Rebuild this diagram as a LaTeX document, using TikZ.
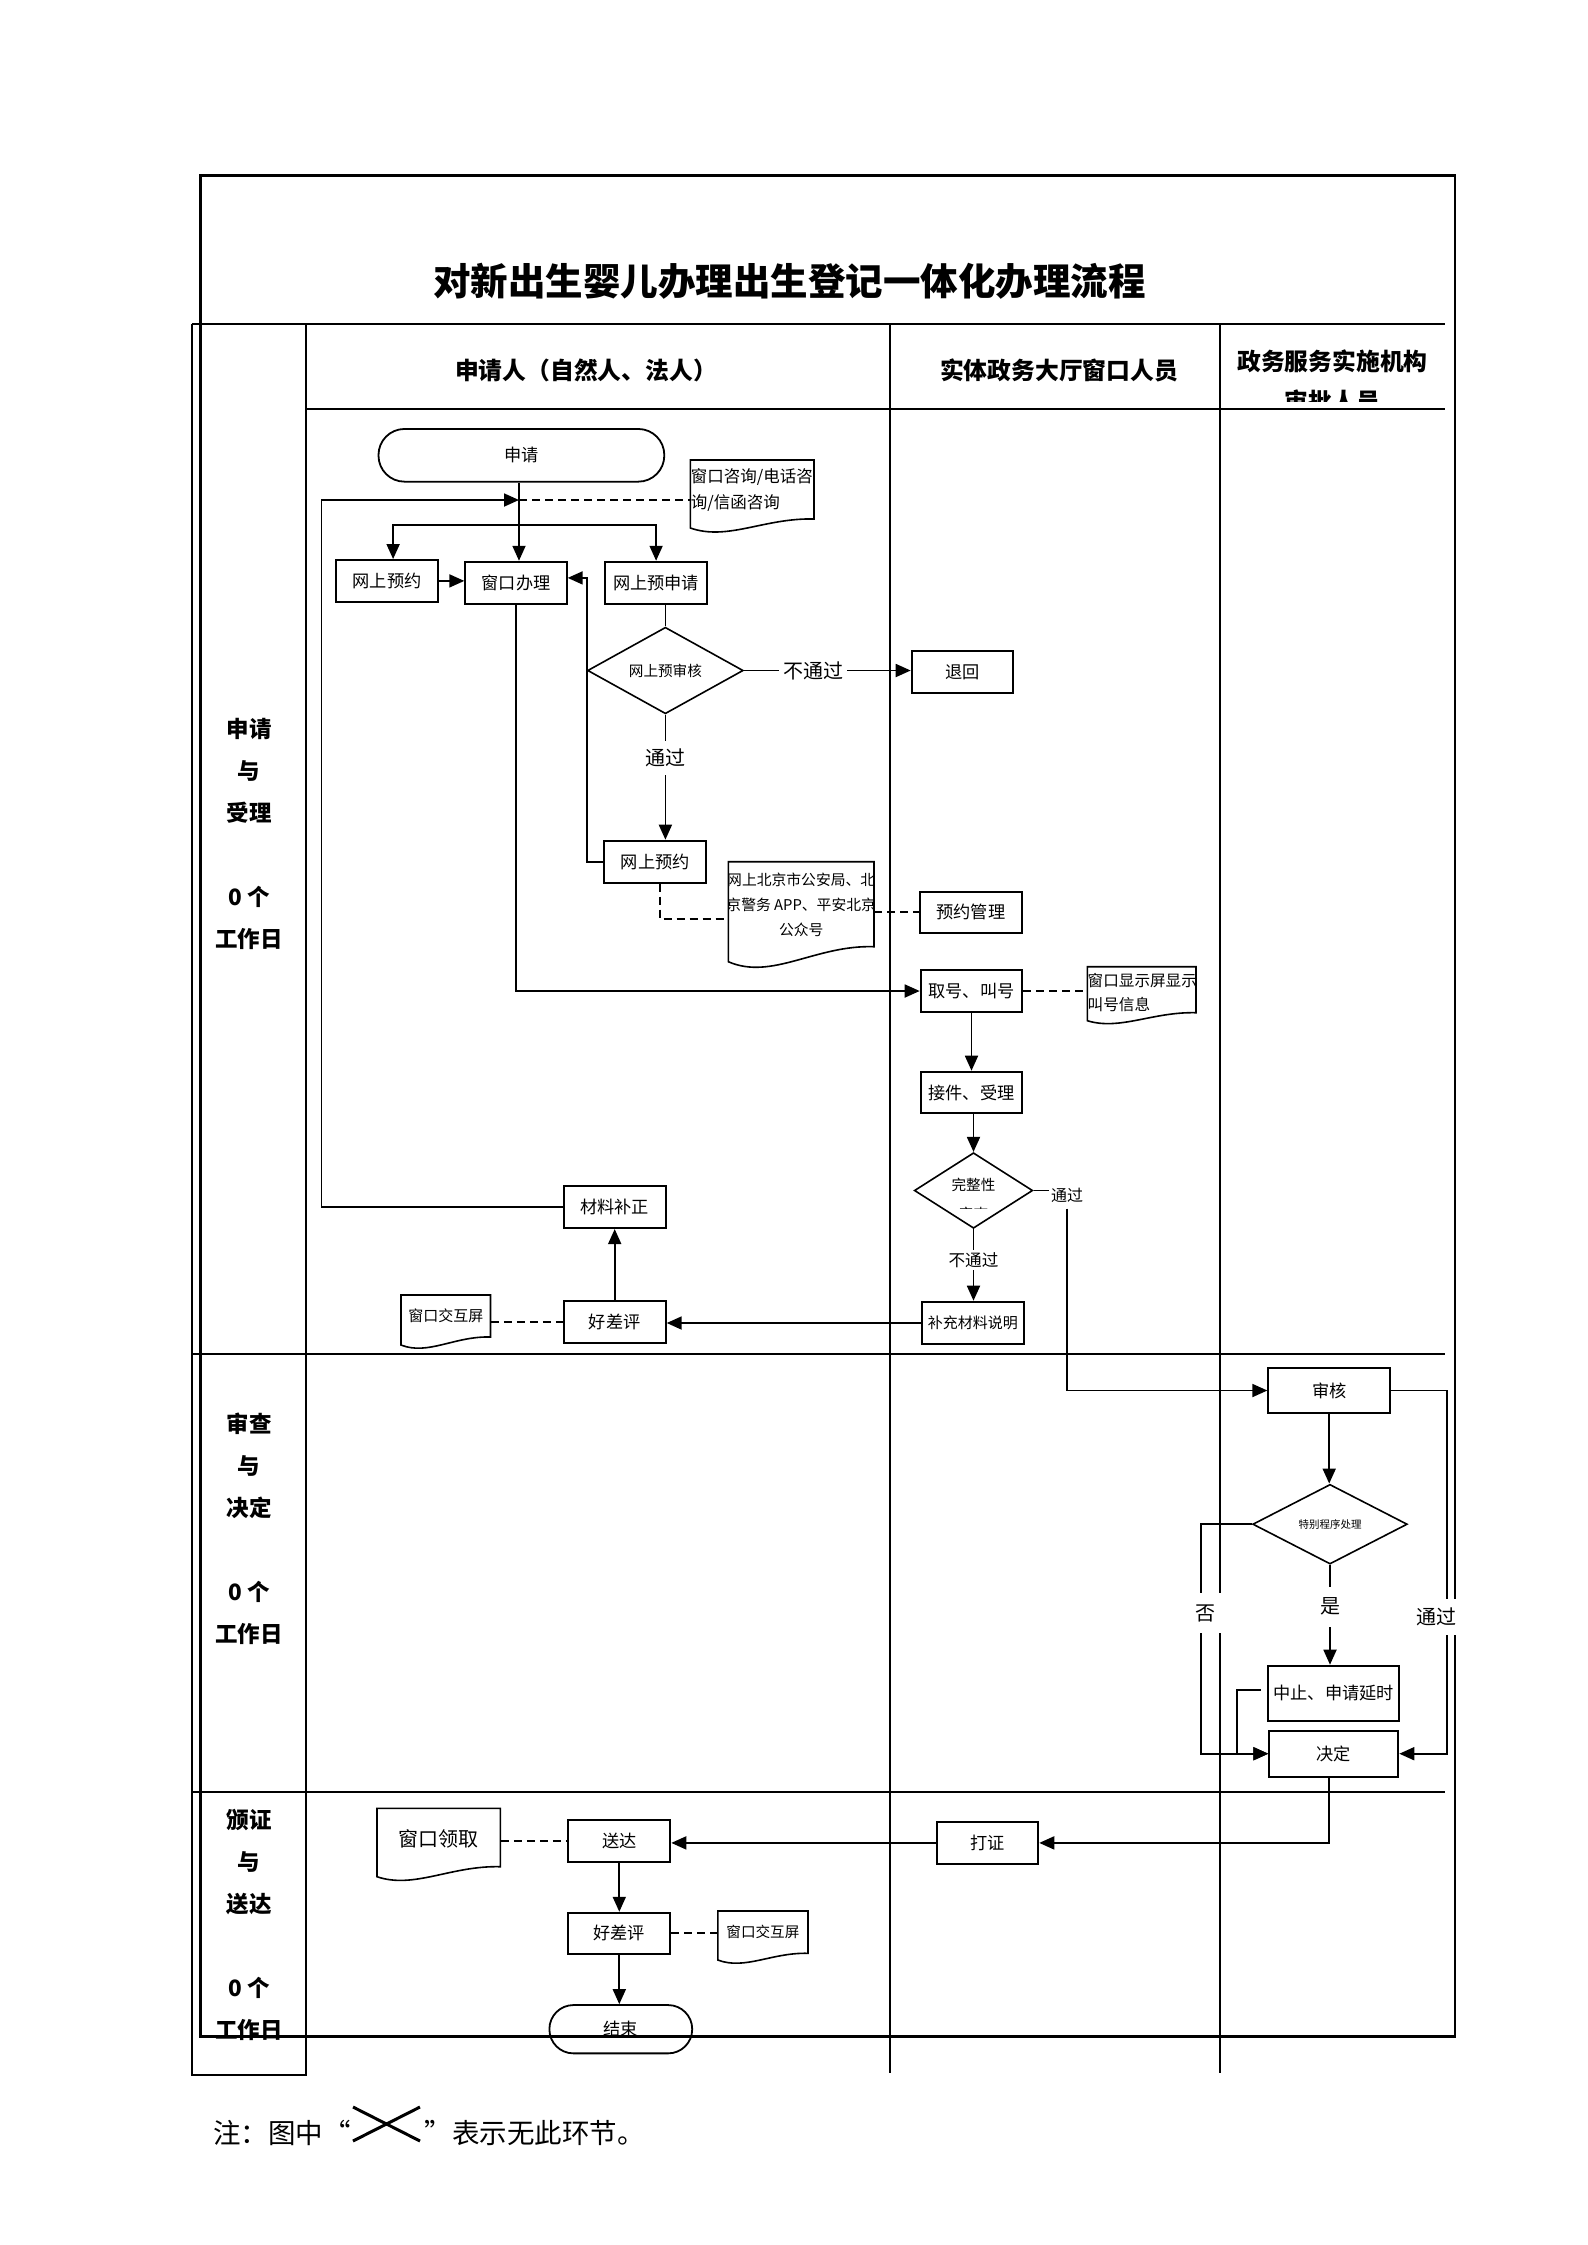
\documentclass[tikz,border=0pt]{standalone}
\usepackage{fontspec}
\setmainfont{Noto Sans CJK SC}
\usetikzlibrary{arrows.meta,calc,shapes.geometric}
\newcommand\myfs[1]{\fontsize{#1pt}{#1pt}\selectfont}
\newcommand\docshape[6]{%
  \draw[docl] (#1,{#4+#5}) -- (#1,#2) -- (#3,#2) -- (#3,#4) .. controls ({#1+0.6*(#3-#1)},{#4-0.1*#6}) and ({#1+0.3*(#3-#1)},{#4+1.7*#6}) .. (#1,{#4+#5}) -- cycle;}
\begin{document}
\begin{tikzpicture}[x=0.5pt,y=-0.5pt,
  sz/.style 2 args={minimum width=#1pt, minimum height=#2pt},
  box/.style={draw, line width=1pt, inner sep=0pt, align=center, font=\myfs{8.6}},
  dmd/.style={draw, diamond, line width=0.8pt, inner sep=0pt},
  term/.style={draw, line width=0.9pt, inner sep=0pt, font=\myfs{8.6}},
  ln/.style={line width=0.9pt},
  arr/.style={line width=0.9pt, -{Triangle[length=7.5pt,width=6.5pt]}},
  dsh/.style={line width=1pt, dash pattern=on 4pt off 2.5pt},
  docl/.style={line width=0.8pt},
  lbl/.style={fill=white, inner xsep=1pt, inner ysep=3pt, font=\myfs{10}},
  tbl/.style={line width=0.85pt},
  hdr/.style={font=\myfs{11.9}\bfseries},
  lane/.style={font=\fontsize{11.25pt}{21pt}\selectfont\bfseries, align=center},
  doct/.style={inner sep=0pt}
]
\fill[white] (0,0) rectangle (1587,2245);
\useasboundingbox (0,0) rectangle (1587,2245);

% ---------- table lines ----------
\draw[tbl] (192,324) -- (192,2075) -- (306,2075) -- (306,324);
\draw[line width=1pt] (192,324) -- (1445,324);
\draw[line width=1pt] (306,409) -- (1445,409);
\draw[tbl] (890,324) -- (890,2073);
\draw[tbl] (1220,324) -- (1220,2073);
\draw[tbl] (192,1354) -- (1445,1354);
\draw[tbl] (192,1792) -- (1445,1792);

% ---------- title and headers ----------
\node[font=\myfs{18.75}\bfseries] (title) at (789.5,281.7) {对新出生婴儿办理出生登记一体化办理流程};
\node[hdr] (h1) at (586,370) {申请人（自然人、法人）};
\node[hdr] (h2) at (1059,370) {实体政务大厅窗口人员};
\begin{scope}
  \clip (1221,326) rectangle (1444,401);
  \node[hdr] (h3) at (1332.5,361.7) {政务服务实施机构};
  \node[hdr] (h3b) at (1332.5,401) {审批人员};
\end{scope}

% ---------- lane labels ----------
\node[lane] (l1) at (249,833.75) {申请\\与\\受理\\[21pt]0 个\\工作日};
\node[lane] (l2) at (249,1529) {审查\\与\\决定\\[21pt]0 个\\工作日};
\node[lane] (l3) at (249,1925.3) {颁证\\与\\送达\\[21pt]0 个\\工作日};

% ---------- process nodes ----------
\node[term, sz={142.9}{26.35}, rounded corners=13pt] (sq) at (521.4,455.3) {\raisebox{-2pt}{申请}};
\node[box, sz={50.7}{20.85}] (wy1) at (387.1,580.9) {网上预约};
\node[box, sz={50.7}{21.15}] (ck) at (516,582.9) {窗口办理};
\node[box, sz={50.7}{21.15}] (wsq) at (656.1,582.9) {网上预申请};
\node[dmd, sz={77.85}{37.8}, font=\myfs{7.3}] (d1) at (665.4,670.5) {网上预审核};
\node[box, sz={50.8}{20.85}] (th) at (962.5,671.9) {退回};
\node[box, sz={50.85}{21}] (wy2) at (655.2,861.7) {网上预约};
\node[box, sz={50.85}{20.5}] (yg) at (970.9,912.2) {预约管理};
\node[box, sz={50.8}{21}] (qh) at (971.5,991) {取号、叫号};
\node[box, sz={50.8}{20.8}] (js) at (971.5,1092.5) {接件、受理};
\node[dmd, sz={59.2}{37.8}] (wz) at (973.5,1190.5) {};
\begin{scope}
  \clip (914,1150) rectangle (1033,1208.5);
  \node[font=\myfs{7.3}] (wzt1) at (973.5,1185) {完整性};
  \node[font=\myfs{7.3}] (wzt2) at (973.5,1214) {审查};
\end{scope}
\node[box, sz={51.15}{21.3}, font=\myfs{7.5}] (bc) at (972.9,1323) {补充材料说明};
\node[box, sz={51}{21.15}] (clbz) at (614.7,1206.9) {材料补正};
\node[box, sz={51}{21.3}] (hcp1) at (614.7,1322) {好差评};
\node[box, sz={60.85}{22.8}] (sh) at (1329.2,1390.5) {审核};
\node[dmd, sz={77.3}{39.85}, font=\myfs{5.25}] (d3) at (1330,1524.2) {特别程序处理};
\node[box, sz={65.35}{27.5}] (zz) at (1333.7,1693.2) {中止、申请延时};
\node[box, sz={64.5}{23}] (jd) at (1333.8,1753.7) {决定};
\node[box, sz={50.55}{21.15}] (dz) at (987.7,1842.9) {打证};
\node[box, sz={51}{20.85}] (sd) at (619.3,1840.9) {送达};
\node[box, sz={51}{20.65}] (hcp2) at (619.3,1933.4) {好差评};
\node[term, sz={71.4}{24.15}, rounded corners=12pt] (js2) at (620.8,2029.2) {\raisebox{-3pt}{结束}};

% ---------- documents ----------
\node[doct, sz={61.8}{29.5}] (dc1) at (752.2,489.5) {};
\docshape{690.4}{460}{814}{519}{9}{13}
\begin{scope}
  \clip (690.4,460) rectangle (814,530);
  \node[doct, anchor=west, font=\myfs{8.25}] (dc1a) at (690.4,477) {窗口咨询/电话咨};
  \node[doct, anchor=west, font=\myfs{8.25}] (dc1b) at (690.4,503) {询/信函咨询};
\end{scope}

\node[doct, sz={72.85}{42.5}] (bj) at (801.2,904.2) {};
\docshape{728.3}{861.7}{874}{946.7}{15}{20}
\begin{scope}
  \clip (728.3,861.7) rectangle (874,960);
  \node[doct, font=\myfs{7.4}] (bja) at (801.2,880) {网上北京市公安局、北};
  \node[doct, font=\myfs{7.4}] (bjb) at (801.2,905) {京警务 APP、平安北京};
  \node[doct, font=\myfs{7.4}] (bjc) at (801.2,930) {公众号};
\end{scope}

\node[doct, sz={54.35}{23}] (xs) at (1141.7,989.7) {};
\docshape{1087.3}{966.7}{1196}{1012.7}{8}{10.6}
\begin{scope}
  \clip (1087.3,966.7) rectangle (1196,1020);
  \node[doct, anchor=west, font=\myfs{7.8}] (xsa) at (1087.3,980.7) {窗口显示屏显示};
  \node[doct, anchor=west, font=\myfs{7.8}] (xsb) at (1087.3,1005) {叫号信息};
\end{scope}

\node[doct, sz={44.75}{21}, font=\myfs{7.5}] (jh1) at (445.75,1316) {窗口交互屏};
\docshape{401}{1295}{490.5}{1337}{8}{11}

\node[doct, sz={61.7}{29.2}, font=\myfs{10}] (lq) at (438.7,1838.5) {窗口领取};
\docshape{377}{1808.3}{500.4}{1866.7}{10}{13.3}

\node[doct, sz={45.1}{21.15}, font=\myfs{7.3}] (jh2) at (762.9,1932.15) {窗口交互屏};
\docshape{717.8}{1911}{808}{1953.3}{6.7}{10}

% ---------- outer frame ----------
\draw[line width=1.25pt] (200.7,175.7) rectangle (1455,2036.5);

% ---------- connectors ----------
\coordinate (jn) at (519,500);
\coordinate (br) at (519,525);
\draw[arr] (jn |- sq.south) -- (jn |- ck.north);
\draw[arr] (br) -| ($(wy1.north)+(6,0)$);
\draw[arr] (br) -| (wsq.north);
\draw[dsh] (jn) -- (jn -| dc1.west);
\draw[arr] (wy1.east) -- (wy1.east -| ck.west);
\draw[ln] (d1.north |- wsq.south) -- (d1.north);
\draw[arr] (d1.east) -- node[lbl, pos=0.414, inner xsep=2pt] (lb1) {不通过} (d1.east -| th.west);
\draw[arr] (d1.south) -- node[lbl, pos=0.345, inner ysep=4pt] (lb2) {通过} (d1.south |- wy2.north);
\draw[arr] (wy2.west) -- (d1.west |- wy2.west) |- ($(ck.east)+(0,-5)$);
\draw[arr] (clbz.west) -- ++(-241.3,0) |- (jn);
\draw[arr] (ck.south) |- (qh.west);
\draw[dsh] ($(wy2.south)+(5,0)$) |- ($(bj.west)+(0,15)$);
\draw[dsh] (yg.west -| bj.east) -- (yg.west);
\draw[dsh] (qh.east) -- (qh.east -| xs.west);
\draw[arr] (qh.south) -- (qh.south |- js.north);
\draw[arr] (wz.north |- js.south) -- (wz.north);
\node[inner xsep=1pt, inner ysep=3pt, font=\myfs{8}] (tg2) at (1067,1195) {通过};
\draw[ln] (wz.east) -- (wz.east -| tg2.west);
\draw[arr] (tg2.south) |- (sh.west);
\draw[arr] (wz.south) -- node[lbl, pos=0.43, inner ysep=1pt, font=\myfs{8.3}] (lb3) {不通过} (wz.south |- bc.north);
\draw[arr] (bc.west) -- (bc.west -| hcp1.east);
\draw[arr] (hcp1.north) -- (hcp1.north |- clbz.south);
\draw[dsh] (hcp1.west -| jh1.east) -- (hcp1.west);

\draw[arr] (sh.south) -- (sh.south |- d3.north);
\draw[arr] (sh.east) -- ++(55.8,0) |- (jd.east);
\draw[arr] (d3.west) -- ++(-51,0) |- (jd.west);
\draw[arr] (d3.south) -- node[lbl, pos=0.42, inner ysep=5.5pt] (lb4) {是} (d3.south |- zz.north);
\draw[arr] ($(zz.west)+(-6.6,-3.2)$) -- ++(-23.4,0) |- (jd.west);
\draw[arr] ($(jd.south)+(-4.8,0)$) |- (dz.east);
\draw[arr] (dz.west) -- (dz.west -| sd.east);
\draw[dsh] (sd.west -| lq.east) -- (sd.west);
\draw[arr] (sd.south) -- (sd.south |- hcp2.north);
\draw[dsh] (hcp2.east) -- (hcp2.east -| jh2.west);
\draw[arr] (hcp2.south) -- (hcp2.south |- js2.north);

% labels covering lines
\node[fill=white, inner xsep=1pt, inner ysep=4.5pt, font=\myfs{10}] (lb5) at (1436,1617) {通过};
\node[fill=white, inner xsep=3.25pt, inner ysep=5.5pt, font=\myfs{10}] (lb6) at (1205.5,1613) {否};

% ---------- note ----------
\node[anchor=west, inner sep=0pt, font=\myfs{13.75}] (n1) at (213,2133) {注：图中};
\node[anchor=east, inner sep=0pt, font=\myfs{13.75}] (n2) at (351,2133) {\vphantom{中}“};
\draw[line width=1.5pt] (353,2107) -- (420,2141) (353,2141) -- (420,2107);
\node[anchor=west, inner sep=0pt, font=\myfs{13.75}] (n3) at (424,2133) {\vphantom{中}”};
\node[anchor=west, inner sep=0pt, font=\myfs{13.75}] (n4) at (452,2133) {表示无此环节。};
\end{tikzpicture}
\end{document}
